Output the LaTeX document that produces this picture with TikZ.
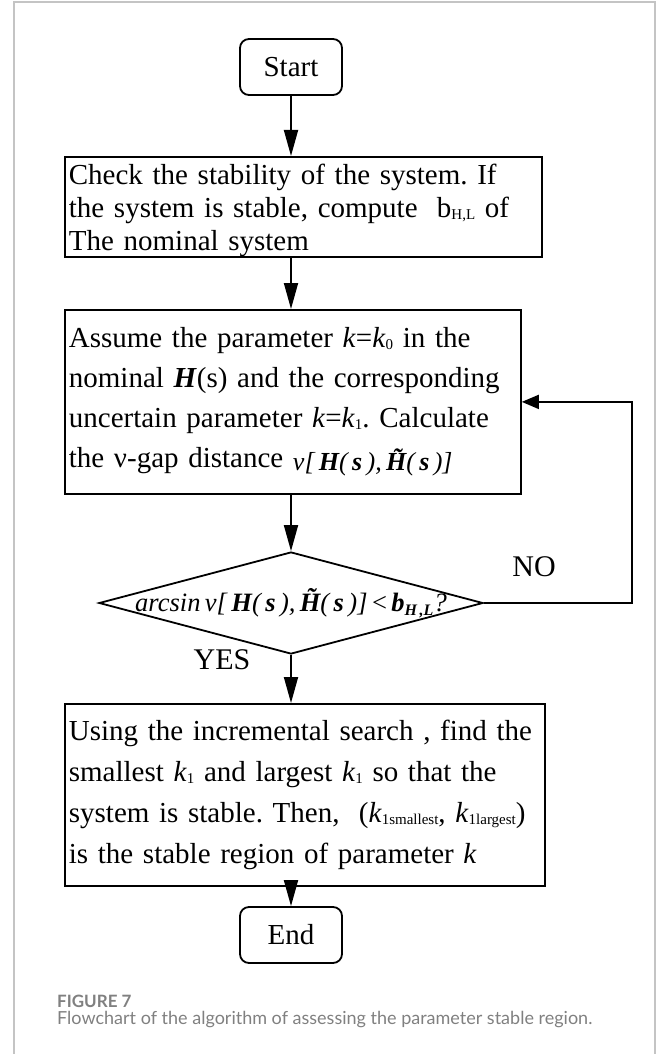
\documentclass[tikz,border=0pt]{standalone}
\usepackage{fontspec}
\setmainfont{Liberation Serif}
\newfontfamily\capfont{Lato}
\usetikzlibrary{arrows.meta, positioning, shapes.geometric}
\frenchspacing

\definecolor{framegray}{HTML}{C4C4C4}
\definecolor{capgray}{HTML}{808080}

% small lowered index, as in k_1
\newcommand{\lowtag}[1]{\raisebox{-2pt}{\fontsize{15}{15}\selectfont #1}}

\begin{document}
\begin{tikzpicture}[
    x=1pt, y=-1pt,
    % Node styles
    terminal/.style={
        draw, line width=1.8pt, rounded corners=9pt,
        minimum width=102pt, minimum height=56pt, inner sep=0pt,
        font=\fontsize{29}{33}\selectfont,
      },
    process/.style={
        draw, line width=1.8pt, anchor=north west, align=left,
        inner xsep=4pt, inner ysep=0pt,
        font=\fontsize{29}{33}\selectfont,
      },
    decision/.style={
        draw, diamond, line width=1.8pt, inner sep=0pt,
        minimum width=384pt, minimum height=102pt,
      },
    % Connector styles
    flow/.style={
        line width=1.8pt, -{Triangle[length=26pt, width=14pt]},
      },
    backflow/.style={
        line width=1.8pt, -{Triangle[length=17pt, width=14pt]},
      },
    branch/.style={font=\fontsize{30}{33}\selectfont},
  ]
  \useasboundingbox (0,0) rectangle (658,1054);

  % frame round the figure
  \draw[framegray, line width=1.3pt] (14,1054) |- (655,2) -- (655,1054);

  \node[terminal] (start) at (291,67) {Start};

  \node[process, text width=469pt, minimum height=100pt] (check) at (64,156)
    {\mbox{\rule{0pt}{27pt}Check the stability of the system. If}\\
     \mbox{the system is stable, compute\ \ b\lowtag{H,L}\ of}\\
     \mbox{The nominal system}};

  \node[process, text width=448pt, minimum height=184pt,
        font=\fontsize{29}{40}\selectfont] (assume) at (64,309)
    {\mbox{Assume the parameter \textit{k}=\textit{k}\lowtag{0} in the}\\
     \mbox{nominal \textbf{\textit{H}}(s) and the corresponding}\\
     \mbox{uncertain parameter \textit{k}=\textit{k}\lowtag{1}. Calculate}\\
     \mbox{the ν-gap distance\ \raisebox{-3pt}{\itshape\fontsize{26}{26}\selectfont
       ν[\,\textbf{H}(\,\textbf{s}\,),\,\textbf{H̃}(\,\textbf{s}\,)]}}};

  \node[decision] (decide) at (291,603) {};
  \node[font=\fontsize{26.5}{26}\selectfont\itshape] (test) at (decide)
    {arcsin\,ν[\,\textbf{H}(\,\textbf{s}\,),\,\textbf{H̃}(\,\textbf{s}\,)]\,\textup{<}\,\textbf{b}\raisebox{-4pt}{\fontsize{16}{16}\selectfont\textbf{H\,,L}}?};

  \node[process, text width=472pt, minimum height=182pt,
        font=\fontsize{29}{41}\selectfont] (result) at (64,703)
    {\mbox{Using the incremental search , find the}\\
     \mbox{smallest \textit{k}\lowtag{1} and largest \textit{k}\lowtag{1} so that the}\\
     \mbox{system is stable. Then,\ \ (\textit{k}\lowtag{1smallest}, \textit{k}\lowtag{1largest})}\\
     \mbox{is the stable region of parameter \textit{k}}};

  \node[terminal] (finish) at (291,935) {End};

  % branch labels
  \node[branch] (no) at (534,567) {NO};
  \node[branch] (yes) at (222,660) {YES};

  % connectors
  \coordinate (loopback) at (632,0);
  \draw[flow] (start.south) -- (start.south |- check.north);
  \draw[flow] (start.south |- check.south) -- (start.south |- assume.north);
  \draw[flow] (start.south |- assume.south) -- (decide.north);
  \draw[flow] (decide.south) -- (decide.south |- result.north);
  \draw[flow] (start.south |- result.south) -- (finish.north);
  \draw[backflow] (decide.east) -- (decide.east -| loopback) |- (assume.east);

  % caption
  \node[anchor=west, text=capgray, font=\capfont\bfseries\fontsize{17}{19}\selectfont,
        inner sep=0pt] (figno) at (57,1001) {FIGURE 7};
  \node[below=4pt of figno.south west, anchor=north west, text=capgray,
        font=\capfont\fontsize{18}{21}\selectfont, inner sep=0pt] (figcap)
    {Flowchart of the algorithm of assessing the parameter stable region.};
\end{tikzpicture}
\end{document}
